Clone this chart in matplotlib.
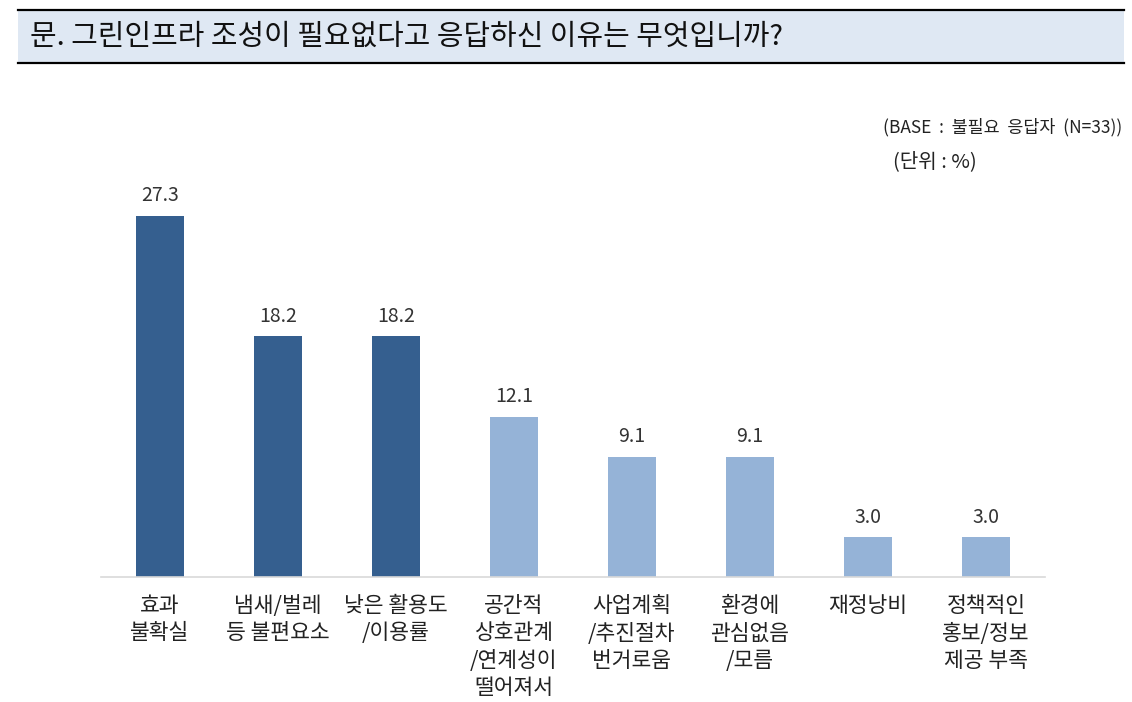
import matplotlib
matplotlib.use('Agg')

from matplotlib import pyplot as plt
from matplotlib.patches import Rectangle
from matplotlib.lines import Line2D

plt.rcParams['font.family'] = ['Noto Sans CJK KR', 'DejaVu Sans']

# chart data
categories = ['효과\n불확실', '냄새/벌레\n등 불편요소', '낮은 활용도\n/이용률',
              '공간적\n상호관계\n/연계성이\n떨어져서', '사업계획\n/추진절차\n번거로움',
              '환경에\n관심없음\n/모름', '재정낭비', '정책적인\n홍보/정보\n제공 부족']
values = [27.3, 18.2, 18.2, 12.1, 9.1, 9.1, 3.0, 3.0]
highlight = [True, True, True, False, False, False, False, False]

title = '문. 그린인프라 조성이 필요없다고 응답하신 이유는 무엇입니까?'
base_note = '(BASE  :  불필요  응답자  (N=33))'
unit_note = '(단위 : %)'

DARK = '#355f8f'
LIGHT = '#95b3d7'

W, H = 1132, 702
fig = plt.figure(figsize=(W / 100, H / 100), dpi=100)


def fx(px):
    return px / W


def fy(py):
    return 1 - py / H


# header box
fig.patches.append(Rectangle((fx(18), fy(63)), fx(1124) - fx(18), fy(10) - fy(63),
                             transform=fig.transFigure, facecolor='#dfe8f3',
                             edgecolor='none', zorder=0))
for yy in (10, 63):
    fig.lines.append(Line2D([fx(18), fx(1124)], [fy(yy), fy(yy)],
                            transform=fig.transFigure, color='black', linewidth=1.6))
fig.text(fx(30), fy(37), title, fontsize=20.8, va='center', ha='left', color='#111111')

fig.text(fx(1122), fy(127), base_note, fontsize=12.5, va='center', ha='right', color='#222222')
fig.text(fx(893), fy(162), unit_note, fontsize=14.5, va='center', ha='left', color='#222222')

# bar axes
ax = fig.add_axes([fx(101), fy(577), fx(1045) - fx(101), fy(150) - fy(577)])
scale = 361 / 27.3
ax.set_ylim(0, (577 - 150) / scale)
ax.set_xlim(-0.5, len(values) - 0.5)

colors = [DARK if h else LIGHT for h in highlight]
xs = range(len(values))
bars = ax.bar(xs, values, width=0.41, color=colors, zorder=2)

for x, v in zip(xs, values):
    ax.annotate(f'{v:.1f}', (x, v), xytext=(0, 7), textcoords='offset points',
                ha='center', va='bottom', fontsize=14, color='#333333')

for s in ('top', 'right', 'left'):
    ax.spines[s].set_visible(False)
ax.spines['bottom'].set_color('#d9d9d9')
ax.spines['bottom'].set_linewidth(1.2)
ax.set_yticks([])
ax.set_xticks(list(xs))
ax.set_xticklabels(categories, fontsize=15.5, color='#222222', linespacing=1.32)
ax.tick_params(axis='x', length=0, pad=13)

fig.savefig('out.png', dpi=100)
